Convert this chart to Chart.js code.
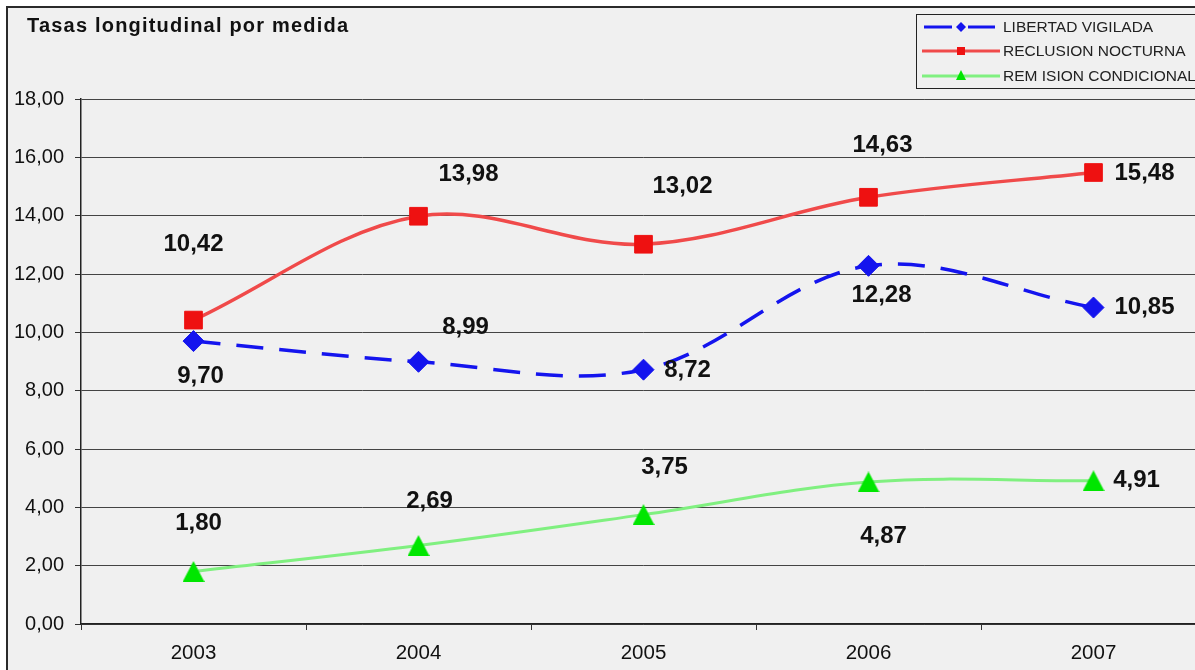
<!DOCTYPE html>
<html>
<head>
<meta charset="utf-8">
<script src="https://cdn.jsdelivr.net/npm/chart.js@4.4.1/dist/chart.umd.min.js"></script>
<style>
  html, body { margin: 0; padding: 0; background: #fff; }
  #wrap { width: 1195px; height: 670px; overflow: hidden; }
</style>
</head>
<body>
<div id="wrap"><canvas id="grafico" width="1220" height="670"></canvas></div>
<script>
// Datos
const anios = ['2003', '2004', '2005', '2006', '2007'];
const libertadVigilada = [9.70, 8.99, 8.72, 12.28, 10.85];
const reclusionNocturna = [10.42, 13.98, 13.02, 14.63, 15.48];
const remisionCondicional = [1.80, 2.69, 3.75, 4.87, 4.91];
const nombresSeries = ['LIBERTAD VIGILADA', 'RECLUSION NOCTURNA', 'REM ISION CONDICIONAL'];
const tituloGrafico = 'Tasas longitudinal por medida';

// desplazamiento de las etiquetas (px) respecto al punto
const offsetsEtiquetas = [
    [[7, 35], [47, -34], [44, 1], [13, 30], [51, 0]],
    [[0, -76], [50, -42], [39, -58], [14, -52], [51, 1]],
    [[5, -48], [11, -44], [21, -47], [15, 54], [43, 0]]
];

const fuente = "'Liberation Sans', Arial, sans-serif";
const fmt = v => v.toFixed(2).replace('.', ',');

// Triangulo verde (centrado en su caja, como en Excel)
const triangulo = document.createElement('canvas');
triangulo.width = 22;
triangulo.height = 21;
(function() {
    const t = triangulo.getContext('2d');
    t.fillStyle = '#00e600';
    t.beginPath();
    t.moveTo(11, 0);
    t.lineTo(22, 21);
    t.lineTo(0, 21);
    t.closePath();
    t.fill();
})();

// Fondo, borde y titulo
const fondoPlugin = {
    id: 'fondo',
    beforeDraw(chart) {
        const ctx = chart.ctx;
        ctx.save();
        ctx.fillStyle = '#ffffff';
        ctx.fillRect(0, 0, chart.width, chart.height);
        ctx.fillStyle = '#f0f0f0';
        ctx.fillRect(7, 7, chart.width, chart.height);
        ctx.strokeStyle = '#2a2a2a';
        ctx.lineWidth = 2;
        ctx.beginPath();
        ctx.moveTo(7, chart.height);
        ctx.lineTo(7, 7);
        ctx.lineTo(chart.width, 7);
        ctx.stroke();
        ctx.fillStyle = '#111';
        ctx.font = 'bold 20px ' + fuente;
        ctx.letterSpacing = '1.2px';
        ctx.textBaseline = 'middle';
        ctx.fillText(tituloGrafico, 27, 26);
        ctx.restore();
    }
};

// Etiquetas de datos
const etiquetasPlugin = {
    id: 'etiquetas',
    afterDatasetsDraw(chart) {
        const ctx = chart.ctx;
        ctx.save();
        ctx.font = 'bold 24px ' + fuente;
        ctx.fillStyle = '#111';
        ctx.textAlign = 'center';
        ctx.textBaseline = 'middle';
        chart.data.datasets.forEach((ds, i) => {
            const meta = chart.getDatasetMeta(i);
            meta.data.forEach((pt, j) => {
                const off = offsetsEtiquetas[i][j];
                ctx.fillText(fmt(ds.data[j]), pt.x + off[0], pt.y + off[1]);
            });
        });
        ctx.restore();
    }
};

// Leyenda
const leyendaPlugin = {
    id: 'leyenda',
    afterDraw(chart) {
        const ctx = chart.ctx;
        ctx.save();
        ctx.fillStyle = '#f0f0f0';
        ctx.fillRect(916, 14, 300, 74);
        ctx.strokeStyle = '#222';
        ctx.lineWidth = 1;
        ctx.strokeRect(916.5, 14.5, 300, 74);
        const filas = [27, 51, 76];
        const coloresMarca = ['#1414ee', '#ee1111', '#00e600'];
        chart.data.datasets.forEach((ds, i) => {
            const y = filas[i];
            ctx.strokeStyle = ds.borderColor;
            ctx.lineWidth = 3;
            ctx.beginPath();
            if (i === 0) {
                ctx.moveTo(924, y); ctx.lineTo(952, y);
                ctx.moveTo(968, y); ctx.lineTo(995, y);
            } else {
                ctx.moveTo(922, y); ctx.lineTo(1000, y);
            }
            ctx.stroke();
            ctx.fillStyle = coloresMarca[i];
            ctx.beginPath();
            if (i === 0) {
                ctx.moveTo(961, y - 5); ctx.lineTo(966, y); ctx.lineTo(961, y + 5); ctx.lineTo(956, y);
            } else if (i === 1) {
                ctx.rect(957, y - 4, 8, 8);
            } else {
                ctx.moveTo(961, y - 6); ctx.lineTo(966, y + 4); ctx.lineTo(956, y + 4);
            }
            ctx.closePath();
            ctx.fill();
            ctx.fillStyle = '#222';
            ctx.font = '15.5px ' + fuente;
            ctx.textBaseline = 'middle';
            ctx.fillText(ds.label, 1003, y + 1);
        });
        ctx.restore();
    }
};

new Chart(document.getElementById('grafico').getContext('2d'), {
    type: 'line',
    data: {
        labels: anios,
        datasets: [{
            label: nombresSeries[0],
            data: libertadVigilada,
            borderColor: '#1414ee',
            backgroundColor: '#1414ee',
            pointBackgroundColor: '#1414ee',
            pointBorderColor: '#1414ee',
            borderWidth: 3.5,
            borderDash: [27, 16],
            pointStyle: 'rectRot',
            pointRadius: 10.5,
            pointBorderWidth: 1,
            tension: 0.35,
            fill: false
        }, {
            label: nombresSeries[1],
            data: reclusionNocturna,
            borderColor: '#f04a4a',
            backgroundColor: '#ee1111',
            pointBackgroundColor: '#ee1111',
            pointBorderColor: '#ee1111',
            borderWidth: 3.5,
            pointStyle: 'rect',
            pointRadius: 12.5,
            pointBorderWidth: 1,
            tension: 0.35,
            fill: false
        }, {
            label: nombresSeries[2],
            data: remisionCondicional,
            borderColor: '#80f080',
            backgroundColor: '#00e600',
            pointStyle: triangulo,
            pointRadius: 11,
            tension: 0.35,
            fill: false
        }]
    },
    options: {
        responsive: false,
        animation: false,
        layout: { padding: { top: 99, right: 14, left: 0, bottom: 0 } },
        plugins: {
            legend: { display: false },
            title: { display: false },
            tooltip: { enabled: false }
        },
        scales: {
            x: {
                offset: true,
                grid: { offset: true, drawOnChartArea: false, tickLength: 6, tickColor: '#333' },
                border: { color: '#222', width: 1.5 },
                ticks: { color: '#111', font: { family: fuente, size: 20.5 }, padding: 11, maxRotation: 0 },
                afterFit(s) { s.height = 46; }
            },
            y: {
                min: 0,
                max: 18,
                grid: { color: '#444', lineWidth: 1, tickLength: 6, tickColor: '#333' },
                border: { color: '#222', width: 1.5 },
                ticks: {
                    stepSize: 2,
                    color: '#111',
                    font: { family: fuente, size: 20 },
                    padding: 11,
                    callback: v => fmt(v)
                },
                afterFit(s) { s.width = 81; }
            }
        }
    },
    plugins: [fondoPlugin, etiquetasPlugin, leyendaPlugin]
});
</script>
</body>
</html>
